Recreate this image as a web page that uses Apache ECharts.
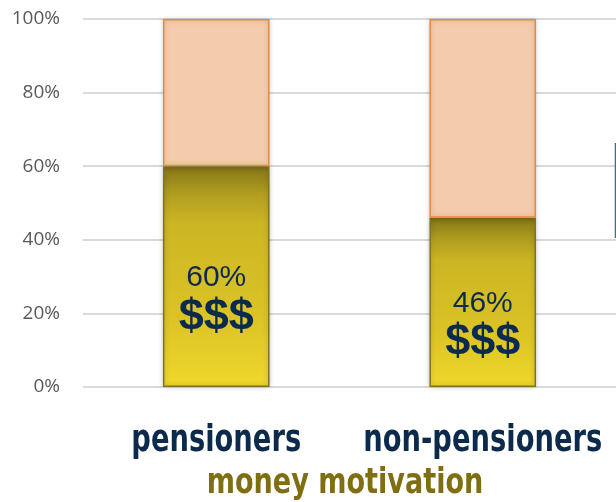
<!DOCTYPE html>
<html><head><meta charset="utf-8">
<script src="https://cdn.jsdelivr.net/npm/echarts@6/dist/echarts.min.js"></script>
<style>html,body{margin:0;padding:0;background:#fff}#c{width:616px;height:502px}</style>
</head><body><div id="c"></div>
<script>
const categories = ['pensioners', 'non-pensioners'];
const moneyShare = [60, 46];
const otherShare = [40, 54];
const yTicks = [0, 20, 40, 60, 80, 100];
const titleText = 'money motivation';

const condensed = '"DejaVu Sans Condensed", "Liberation Sans Narrow", sans-serif';
const chart = echarts.init(document.getElementById('c'));
chart.setOption({
  animation: false,
  grid: { left: 83, right: -3, top: 19, bottom: 115, containLabel: false },
  xAxis: {
    type: 'category', data: categories,
    axisLine: { show: false }, axisTick: { show: false },
    axisLabel: { show: false }
  },
  yAxis: {
    type: 'value', min: 0, max: 100, interval: 20,
    axisLabel: { formatter: v => yTicks.includes(v) ? v + '%' : '', fontFamily: '"Open Sans", sans-serif', fontSize: 19, color: '#595959', margin: 23 },
    splitLine: { lineStyle: { color: '#d9d9d9', width: 2 } },
    axisLine: { show: false }, axisTick: { show: false }
  },
  series: [
    {
      type: 'bar', stack: 'a', barWidth: '40%', data: moneyShare,
      itemStyle: {
        color: new echarts.graphic.LinearGradient(0, 0, 0, 1, [
          { offset: 0, color: '#847516' },
          { offset: 0.12, color: '#ae9c1f' },
          { offset: 0.25, color: '#cbb523' },
          { offset: 0.7, color: '#dcc426' },
          { offset: 1, color: '#f0d82b' }
        ]),
        borderColor: '#7d7320', borderWidth: 1.5,
        shadowBlur: 5, shadowColor: 'rgba(0,0,0,0.25)'
      },
      label: {
        show: true, position: 'inside', offset: [0, 24],
        formatter: p => '{a|' + p.value + '%}\n{b|$$$}',
        rich: {
          a: { fontFamily: '"Liberation Sans", Arial, sans-serif', fontSize: 30, color: '#0b2a4e', lineHeight: 33 },
          b: { fontFamily: '"Liberation Sans", Arial, sans-serif', fontSize: 45, fontWeight: 'bold', color: '#0b2a4e', lineHeight: 45 }
        }
      }
    },
    {
      type: 'bar', stack: 'a', barWidth: '40%', data: otherShare,
      itemStyle: { color: '#f4cbac', borderColor: '#e8893a', borderWidth: 1.5, shadowBlur: 5, shadowColor: 'rgba(0,0,0,0.2)' }
    }
  ]
});

const gfx = categories.map(c => ({
  type: 'text',
  x: chart.convertToPixel({ xAxisIndex: 0 }, c), y: 441,
  scaleX: 0.8, originX: 0, originY: 0,
  style: { text: c, x: 0, y: 0, align: 'center', verticalAlign: 'middle',
    font: 'bold 38px ' + condensed, fill: '#0c2a4c' }
}));
gfx.push({
  type: 'text', x: 345, y: 484, scaleX: 0.86, originX: 0, originY: 0,
  style: { text: titleText, x: 0, y: 0, align: 'center', verticalAlign: 'middle',
    font: 'bold 35px ' + condensed, fill: '#806e12' }
});
gfx.push({ type: 'line', shape: { x1: 615.5, y1: 143, x2: 615.5, y2: 238 }, style: { stroke: '#3f6f73', lineWidth: 1.5 } });
chart.setOption({ graphic: gfx });
</script></body></html>
